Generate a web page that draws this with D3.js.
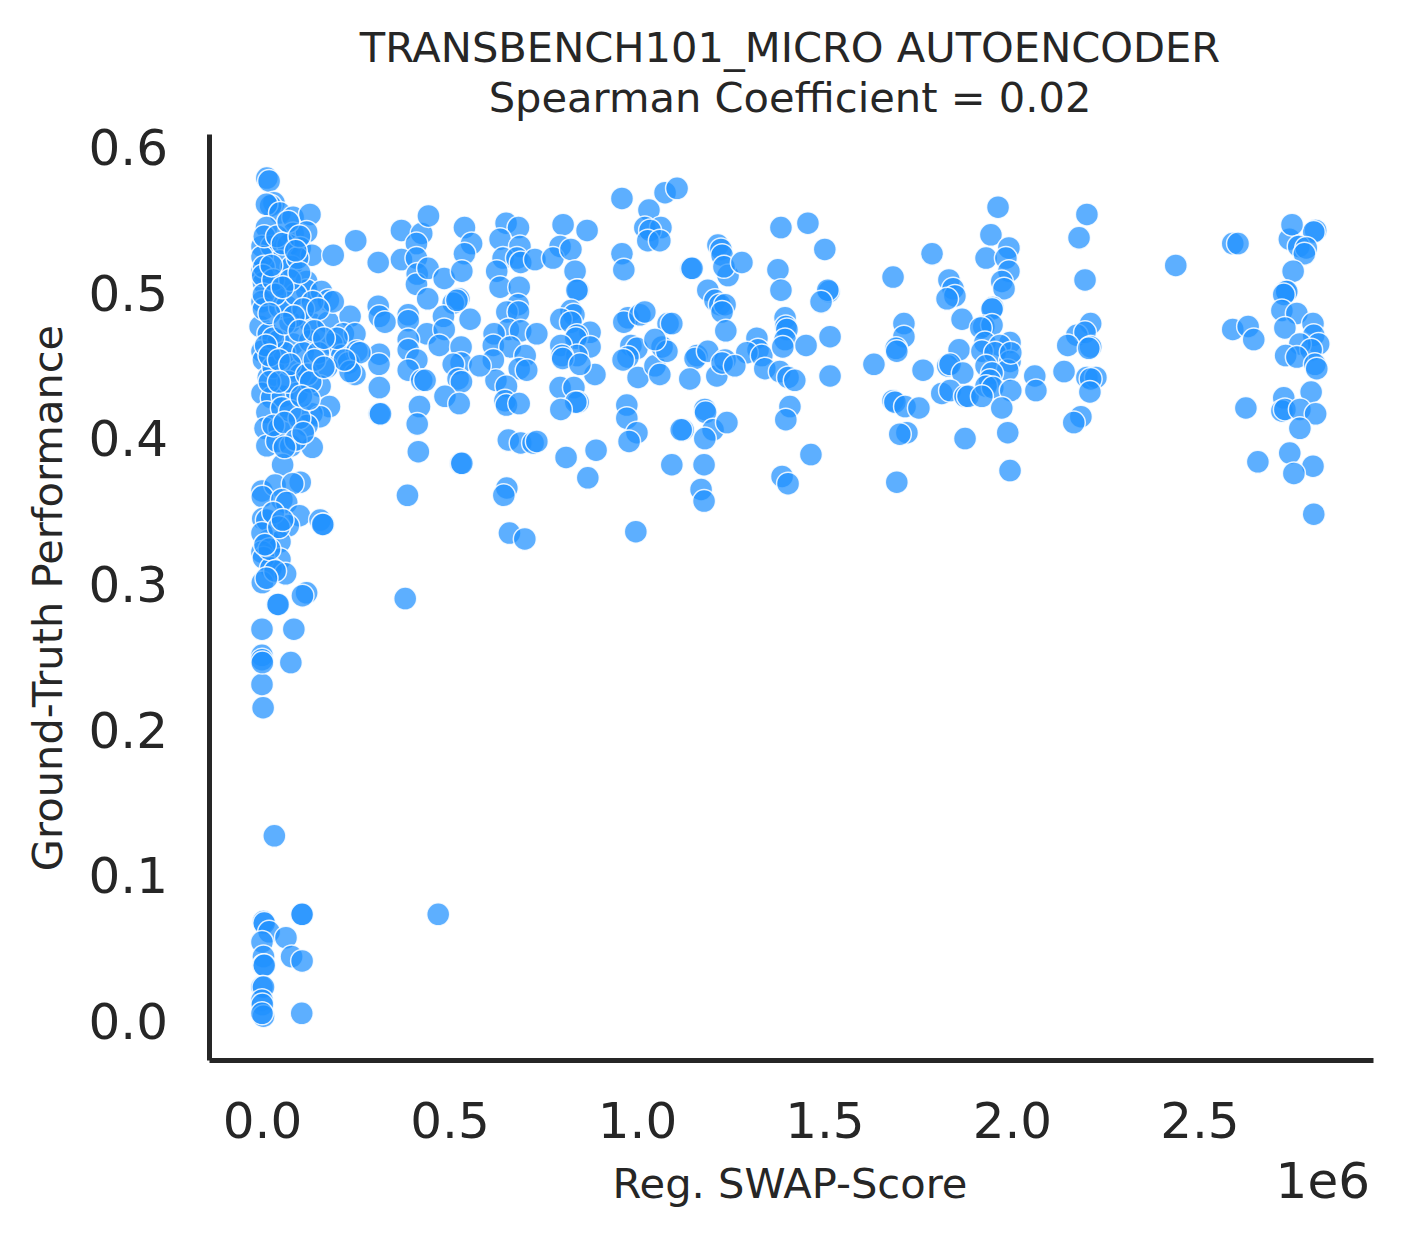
<!DOCTYPE html>
<html><head><meta charset="utf-8">
<script src="https://cdn.jsdelivr.net/npm/d3@7/dist/d3.min.js"></script>
<style>html,body{margin:0;background:#fff}svg{display:block}text{font-family:"DejaVu Sans";fill:#262626}</style>
</head><body><svg id="c" width="1401" height="1238"></svg>
<script>
const titleLines = ["TRANSBENCH101_MICRO AUTOENCODER","Spearman Coefficient = 0.02"];
const xLabel = "Reg. SWAP-Score", yLabel = "Ground-Truth Performance", xOffsetLabel = "1e6";
const xTicks = [0,0.5,1,1.5,2,2.5];
const yTicks = [0,0.1,0.2,0.3,0.4,0.5,0.6];
// [score in units of 1e6, performance]
const bottomGroup = [[.033,.128],[.106,.074],[.107,.074],[.47,.074],[.004,.069],[.006,.068],[.019,.062],[.064,.058],[0,.055],[.004,.045],[.079,.045],[.107,.042],[.004,.039],[.006,.039],[0,.024],[.004,.024],[0,.015],[.001,.012],[.004,.004],[0,.006],[.106,.006],[.003,.216],[0,.232],[0,.252],[0,.249],[.001,.247],[0,.27],[.077,.247],[.085,.27]];
const lowerLeft = [[0,.365],[.035,.369],[.102,.371],[.082,.37],[.001,.361],[.053,.359],[.066,.357],[.002,.346],[.013,.345],[.1,.348],[.155,.345],[.164,.342],[.162,.342],[.07,.341],[.017,.331],[.048,.33],[0,.336],[0,.323],[.048,.318],[.004,.319],[.024,.312],[.063,.308],[.001,.302],[.119,.295],[.108,.293],[.041,.287],[.043,.287],[.03,.35],[.045,.34],[.02,.325],[.008,.328],[.035,.31],[.012,.305],[.055,.345]];
const leftUpper = [[.013,.58],[.019,.578],[.032,.563],[.023,.561],[.012,.562],[.048,.556],[.083,.553],[.128,.555],[.012,.546],[.083,.542],[.119,.543],[0,.533],[.026,.533],[.07,.534],[.102,.532],[.133,.527],[.19,.527],[.25,.537],[.31,.522],[0,.516],[.004,.508],[0,.495],[.004,.49],[.048,.523],[.079,.519],[.119,.509],[.119,.503],[.061,.505],[.159,.502],[.177,.496],[.19,.495],[.048,.491],[.066,.492],[0,.526],[.005,.519],[.002,.513],[.004,.5],[.03,.51],[.09,.5],[.006,.54],[.04,.54],[.055,.535],[.095,.525],[.075,.51],[.1,.515],[.035,.5],[.055,.505],[.135,.495],[.11,.49],[.085,.485],[.15,.49],[.025,.52],[.07,.55],[.1,.54],[.09,.53],[.02,.487],[.06,.48],[.1,.475],[.14,.475],[.165,.47]];
const leftLower = [[.075,.481],[.128,.481],[.177,.481],[.235,.485],[.217,.473],[.248,.473],[-.005,.478],[.017,.473],[.044,.468],[.083,.466],[.128,.468],[.186,.466],[.213,.458],[.253,.461],[.231,.453],[.173,.45],[.261,.46],[.248,.445],[.235,.447],[0,.461],[.004,.455],[.017,.443],[.093,.449],[.102,.445],[.155,.437],[0,.432],[.026,.429],[.055,.43],[.093,.432],[.013,.419],[.053,.422],[.18,.423],[.133,.418],[.155,.416],[.12,.41],[.008,.408],[.046,.408],[.013,.396],[.04,.399],[.077,.396],[.134,.395],[.055,.383],[.03,.45],[.06,.46],[.11,.46],[.07,.44],[.03,.47],[.15,.46],[.01,.465],[.02,.458],[.045,.455],[.075,.452],[.12,.445],[.13,.44],[.075,.42],[.1,.415],[.03,.41],[.06,.412],[.02,.44],[.045,.44],[.105,.43],[.125,.428],[.09,.4],[.11,.405],[.06,.395],[.2,.47],[.22,.455],[.14,.455],[.165,.45]];
const col03to06 = [[.372,.544],[.426,.542],[.444,.554],[.412,.535],[.372,.524],[.412,.525],[.414,.514],[.412,.507],[.443,.518],[.486,.511],[.54,.546],[.559,.535],[.54,.528],[.533,.516],[.442,.497],[.525,.497],[.51,.494],[.31,.492],[.313,.485],[.328,.481],[.39,.486],[.39,.482],[.44,.473],[.39,.469],[.39,.462],[.413,.455],[.39,.448],[.426,.441],[.435,.441],[.313,.459],[.312,.452],[.313,.436],[.313,.418],[.316,.418],[.42,.423],[.414,.411],[.417,.392],[.53,.384],[.533,.384],[.388,.362],[.382,.291],[.484,.485],[.486,.476],[.473,.465],[.555,.483],[.52,.496],[.531,.464],[.531,.453],[.51,.452],[.581,.451],[.523,.442],[.532,.44],[.488,.43],[.526,.425]];
const col06to09 = [[.651,.549],[.684,.546],[.635,.538],[.688,.533],[.643,.525],[.68,.525],[.69,.522],[.728,.524],[.626,.516],[.635,.505],[.686,.505],[.683,.493],[.653,.488],[.684,.488],[.657,.476],[.69,.475],[.733,.473],[.619,.473],[.617,.465],[.662,.464],[.702,.458],[.617,.455],[.686,.449],[.706,.448],[.624,.441],[.652,.437],[.648,.427],[.652,.424],[.686,.425],[.657,.4],[.69,.398],[.723,.398],[.653,.367],[.645,.362],[.66,.336],[.701,.332],[.733,.399],[.803,.548],[.795,.533],[.776,.525],[.824,.531],[.835,.516],[.867,.544],[.843,.503],[.84,.503],[.824,.489],[.832,.486],[.797,.483],[.824,.481],[.875,.474],[.84,.472],[.837,.47],[.797,.465],[.875,.464],[.84,.458],[.8,.458],[.802,.456],[.888,.445],[.848,.452],[.795,.436],[.832,.436],[.843,.426],[.837,.426],[.797,.421],[.811,.388],[.869,.374],[.891,.393]];
const col10to13 = [[.96,.566],[.96,.528],[.965,.517],[1.075,.57],[1.107,.573],[1.032,.558],[1.021,.546],[1.064,.546],[1.035,.544],[1.029,.537],[1.061,.537],[.976,.484],[.965,.481],[1.008,.486],[1.021,.488],[.984,.465],[1,.463],[.976,.457],[.963,.455],[1.003,.443],[1.048,.451],[1.067,.464],[1.061,.445],[1.083,.48],[1.093,.48],[1.08,.461],[1.048,.469],[.973,.424],[.973,.415],[1,.405],[.979,.399],[1.093,.383],[1.123,.407],[1.118,.407],[.997,.337],[1.144,.518],[1.147,.518],[1.189,.503],[1.216,.534],[1.224,.531],[1.227,.527],[1.243,.513],[1.232,.519],[1.28,.522],[1.208,.496],[1.221,.493],[1.235,.493],[1.227,.488],[1.237,.475],[1.16,.458],[1.155,.456],[1.189,.461],[1.141,.442],[1.213,.444],[1.235,.455],[1.227,.453],[1.261,.451],[1.181,.421],[1.183,.419],[1.203,.407],[1.181,.401],[1.24,.412],[1.179,.383],[1.171,.366],[1.179,.358]];
const col13to18 = [[1.32,.47],[1.323,.462],[1.293,.46],[1.333,.458],[1.341,.449],[1.384,.546],[1.456,.549],[1.501,.531],[1.376,.517],[1.384,.503],[1.512,.502],[1.509,.503],[1.491,.495],[1.395,.484],[1.397,.478],[1.4,.476],[1.515,.471],[1.395,.469],[1.389,.464],[1.451,.465],[1.381,.447],[1.403,.443],[1.421,.441],[1.515,.444],[1.408,.423],[1.397,.414],[1.464,.39],[1.387,.375],[1.403,.37],[1.632,.452],[1.683,.512],[1.712,.48],[1.712,.471],[1.691,.463],[1.693,.461],[1.683,.427],[1.688,.426],[1.715,.423],[1.752,.422],[1.763,.448],[1.72,.405],[1.701,.404],[1.693,.371],[1.787,.528]];
const col18to21 = [[1.832,.51],[1.843,.504],[1.848,.499],[1.827,.497],[1.867,.483],[1.859,.462],[1.829,.451],[1.835,.452],[1.869,.446],[1.813,.432],[1.835,.434],[1.875,.43],[1.883,.43],[1.875,.401],[1.963,.56],[1.944,.541],[1.992,.532],[1.931,.525],[1.984,.525],[1.992,.516],[1.973,.509],[1.979,.504],[1.949,.491],[1.947,.49],[1.925,.478],[1.947,.479],[1.917,.477],[1.995,.467],[1.928,.467],[1.968,.465],[1.92,.461],[1.955,.46],[1.931,.451],[1.995,.454],[1.989,.448],[1.947,.446],[1.941,.441],[1.931,.437],[1.949,.436],[1.997,.434],[1.92,.43],[1.973,.422],[1.989,.405],[1.995,.379],[2.061,.444],[2.064,.434],[1.997,.46]];
const col21to27 = [[2.2,.555],[2.179,.539],[2.195,.51],[2.21,.48],[2.173,.472],[2.195,.474],[2.149,.465],[2.21,.464],[2.205,.463],[2.139,.447],[2.2,.443],[2.224,.443],[2.21,.442],[2.208,.433],[2.184,.416],[2.165,.412],[2.437,.52],[2.589,.535],[2.603,.535],[2.589,.476],[2.63,.478],[2.645,.469],[2.624,.422],[2.656,.385]];
const col27to28 = [[2.81,.544],[2.805,.543],[2.74,.538],[2.747,.548],[2.765,.533],[2.785,.532],[2.78,.528],[2.75,.516],[2.73,.502],[2.733,.502],[2.725,.5],[2.72,.489],[2.76,.487],[2.803,.48],[2.728,.477],[2.805,.472],[2.818,.466],[2.768,.466],[2.798,.462],[2.73,.458],[2.76,.457],[2.808,.452],[2.813,.449],[2.798,.433],[2.725,.429],[2.72,.42],[2.728,.421],[2.768,.421],[2.81,.418],[2.768,.408],[2.741,.391],[2.803,.382],[2.752,.377],[2.805,.349]];

const points = [].concat(col27to28,col21to27,col18to21,col13to18,col10to13,col06to09,col03to06,leftLower,leftUpper,lowerLeft,bottomGroup);
const svg = d3.select("#c");
const x = d3.scaleLinear().domain([-0.1413,2.963]).range([209,1373]);
const y = d3.scaleLinear().domain([-0.0261,0.6103]).range([1060,134]);

svg.append("g").selectAll("circle").data(points).join("circle")
  .attr("cx",d=>x(d[0])).attr("cy",d=>y(d[1])).attr("r",11.5)
  .attr("fill","#1e90ff").attr("fill-opacity",.72)
  .attr("stroke","#fff").attr("stroke-opacity",.85).attr("stroke-width",1.5);

const gx = svg.append("g").attr("transform","translate(0,1060)").call(d3.axisBottom(x).tickValues(xTicks).tickFormat(d3.format(".1f")).tickSize(0).tickPadding(42));
const gy = svg.append("g").attr("transform","translate(209,0)").call(d3.axisLeft(y).tickValues(yTicks).tickFormat(d3.format(".1f")).tickSize(0).tickPadding(41));
[gx,gy].forEach(g=>{g.selectAll("text").style("font-family","DejaVu Sans").style("font-size","50px").attr("fill","#262626");
  g.select(".domain").attr("stroke","#262626").attr("stroke-width",5);});

svg.append("text").attr("x",790).attr("y",62).attr("text-anchor","middle").style("font-size","41.6px").text(titleLines[0]);
svg.append("text").attr("x",790).attr("y",112).attr("text-anchor","middle").style("font-size","41.6px").text(titleLines[1]);
svg.append("text").attr("x",790).attr("y",1198).attr("text-anchor","middle").style("font-size","41.6px").text(xLabel);
svg.append("text").attr("transform","translate(62,598) rotate(-90)").attr("text-anchor","middle").style("font-size","41.6px").text(yLabel);
svg.append("text").attr("x",1370).attr("y",1198).attr("text-anchor","end").style("font-size","50px").text(xOffsetLabel);
</script></body></html>
